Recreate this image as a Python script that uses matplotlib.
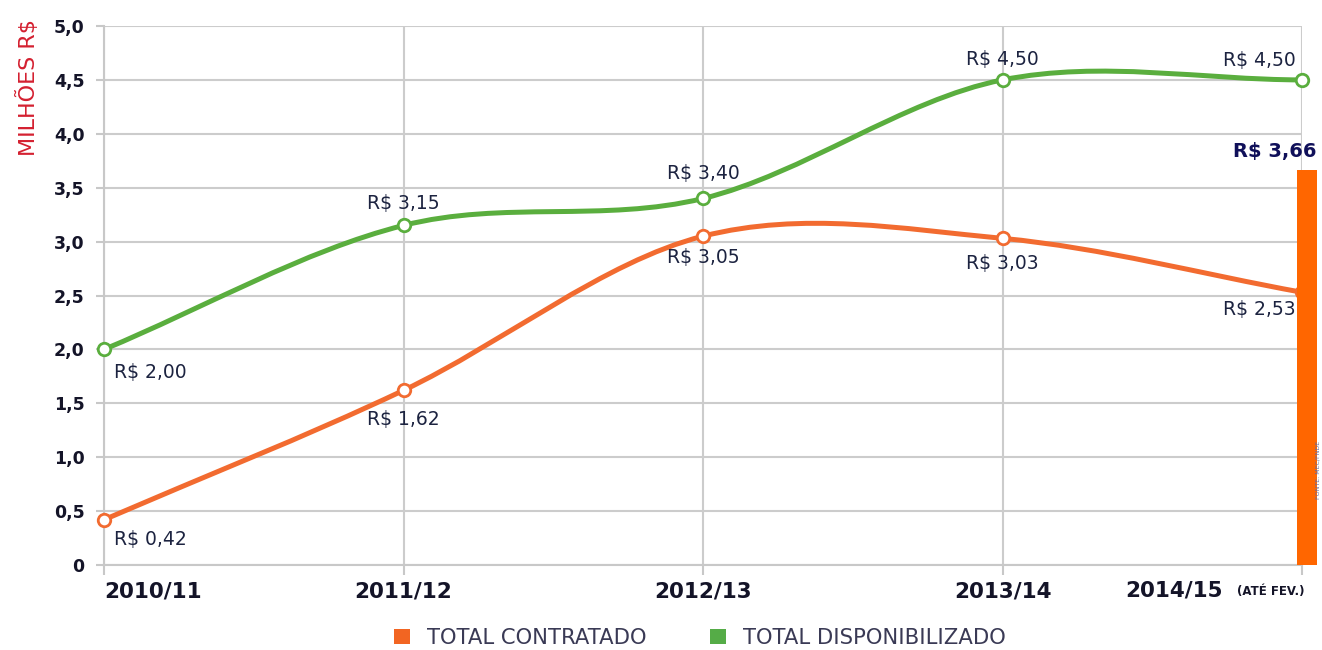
import matplotlib
matplotlib.use('Agg')
import matplotlib.pyplot as plt
from matplotlib.path import Path
from matplotlib.patches import PathPatch, Patch

# data
safras = ['2010/11', '2011/12', '2012/13', '2013/14', '2014/15']
contratado = [0.42, 1.62, 3.05, 3.03, 2.53]
disponibilizado = [2.00, 3.15, 3.40, 4.50, 4.50]
contratado_lbl = ['R$ 0,42', 'R$ 1,62', 'R$ 3,05', 'R$ 3,03', 'R$ 2,53']
disponibilizado_lbl = ['R$ 2,00', 'R$ 3,15', 'R$ 3,40', 'R$ 4,50', 'R$ 4,50']
barra_valor = 3.66
barra_lbl = 'R$ 3,66'
yticks = [0, 0.5, 1.0, 1.5, 2.0, 2.5, 3.0, 3.5, 4.0, 4.5, 5.0]
ytick_lbl = ['0', '0,5', '1,0', '1,5', '2,0', '2,5', '3,0', '3,5', '4,0', '4,5', '5,0']

ORANGE = '#F26B30'
GREEN = '#5AAE3E'
NAVY = '#1c2340'


def spline_path(xs, ys):
    # cubic bezier segments with catmull-rom tangents
    n = len(xs)

    def tangent(i):
        if i == 0:
            return ys[1] - ys[0]
        if i == n - 1:
            return ys[-1] - ys[-2]
        return (ys[i + 1] - ys[i - 1]) / 2

    verts = [(xs[0], ys[0])]
    codes = [Path.MOVETO]
    for i in range(n - 1):
        m0, m1 = tangent(i), tangent(i + 1)
        verts += [(xs[i] + 1 / 3, ys[i] + m0 / 3),
                  (xs[i + 1] - 1 / 3, ys[i + 1] - m1 / 3),
                  (xs[i + 1], ys[i + 1])]
        codes += [Path.CURVE4] * 3
    return Path(verts, codes)


fig = plt.figure(figsize=(13.22, 6.5), dpi=100)
ax = fig.add_axes([104 / 1322, 1 - 565 / 650, (1302 - 104) / 1322, 539 / 650])

x = list(range(len(safras)))

for vals, col in [(contratado, ORANGE), (disponibilizado, GREEN)]:
    ax.add_patch(PathPatch(spline_path(x, vals), fill=False, edgecolor=col, lw=3.6,
                           capstyle='round', joinstyle='round', zorder=3, clip_on=False))
    ax.plot(x, vals, 'o', ms=9, mfc='white', mec=col, mew=2, zorder=4, clip_on=False)

# data labels (offsets in pixels)
pos_g = [('left', 10, -23), ('center', 0, 22), ('center', 0, 25), ('center', 0, 20), ('right', -6, 19)]
pos_o = [('left', 10, -20), ('center', 0, -29), ('center', 0, -21), ('center', 0, -25), ('right', -6, -17)]
for vals, lbls, pos in [(disponibilizado, disponibilizado_lbl, pos_g), (contratado, contratado_lbl, pos_o)]:
    for i, (v, t) in enumerate(zip(vals, lbls)):
        ha, dx, dy = pos[i]
        ax.annotate(t, (i, v), xytext=(dx * 0.72, dy * 0.72), textcoords='offset points',
                    ha=ha, va='center', fontsize=13.5, color=NAVY, zorder=6,
                    annotation_clip=False)

# orange bar at the right edge
ax.bar([4 + 0.017], [barra_valor], width=0.067, color='#FF6600', zorder=5, clip_on=False)
ax.annotate(barra_lbl, (4 + 0.05, barra_valor), xytext=(0, 14), textcoords='offset points',
            ha='right', va='center', fontsize=14, fontweight='bold', color='#10105a',
            annotation_clip=False, zorder=6)
fig.text(1317.5 / 1322, 1 - 470 / 650, 'FONTE: MEC/FNDE', rotation=90, fontsize=4.5,
         color='#6a6a9a', ha='center', va='center')

ax.set_xlim(0, 4)
ax.set_ylim(0, 5.0)
ax.set_yticks(yticks)
ax.set_yticklabels(ytick_lbl)
ax.set_xticks(x)
ax.set_xticklabels(safras[:-1] + [''])
for lab in ax.get_yticklabels():
    lab.set_fontweight('bold')
for lab in ax.get_xticklabels():
    lab.set_fontweight('bold')
ax.get_xticklabels()[0].set_horizontalalignment('left')
ax.tick_params(axis='y', length=6, width=1.5, color='#c8c8c8', pad=8, labelsize=12.5, labelcolor='#141428')
ax.tick_params(axis='x', length=7, width=1.5, color='#c8c8c8', pad=5, labelsize=15.5, labelcolor='#141428')

# last category label, pushed left so it stays inside
ax.annotate('2014/15', (4, 0), xycoords=('data', 'axes fraction'), xytext=(-57, -25 * 0.72),
            textcoords='offset points', ha='right', va='center', fontsize=15.5, fontweight='bold',
            color='#141428', annotation_clip=False)
ax.annotate('(ATÉ FEV.)', (4, 0), xycoords=('data', 'axes fraction'), xytext=(2, -27 * 0.72),
            textcoords='offset points', ha='right', va='center', fontsize=8.5, fontweight='bold',
            color='#141428', annotation_clip=False)

ax.grid(True, color='#cccccc', lw=1.5, zorder=0)
ax.set_axisbelow(True)
for s in ['top', 'right']:
    ax.spines[s].set_visible(False)
for s in ['left', 'bottom']:
    ax.spines[s].set_color('#c8c8c8')
    ax.spines[s].set_linewidth(1.5)

fig.text(28 / 1322, 1 - 88 / 650, 'MILHÕES R$', rotation=90, ha='center', va='center',
         fontsize=16, color='#d42030')

handles = [Patch(facecolor='#F26522', label='TOTAL CONTRATADO'),
           Patch(facecolor='#55AC47', label='TOTAL DISPONIBILIZADO')]
fig.legend(handles=handles, loc='center', bbox_to_anchor=(700 / 1322, 1 - 638 / 650), ncol=2,
           frameon=False, fontsize=15.2, handlelength=0.75, handleheight=0.75, handletextpad=0.8,
           columnspacing=3.0, labelcolor='#3a3a55')

plt.savefig('out.png', dpi=100)
